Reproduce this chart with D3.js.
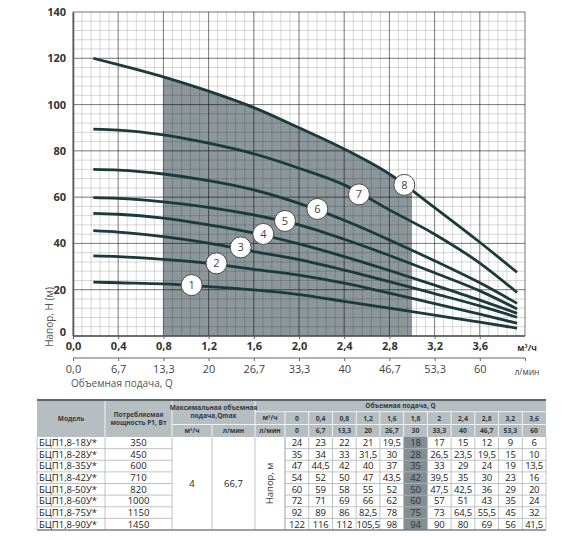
<!DOCTYPE html>
<html><head><meta charset="utf-8">
<script src="https://cdn.jsdelivr.net/npm/d3@7"></script>
<style>body{margin:0;background:#fff}svg{display:block}</style>
</head><body><svg id="c" width="570" height="540"></svg>
<script>
// ---- chart data ----
const qPts  = [0.18, 0.4, 0.8, 1.2, 1.6, 2.0, 2.4, 2.8, 3.2, 3.6, 3.93];
const head1 = [23.3, 23.0, 22.5, 21.3, 19.9, 17.9, 15.0, 12.0, 9.0, 6.0, 3.4];
const head2 = [34.6, 34.3, 33.1, 31.4, 28.8, 26.3, 22.8, 18.5, 14.0, 9.5, 5.5];
const head3 = [45.5, 44.9, 42.9, 40.1, 36.5, 33.0, 28.5, 23.5, 18.3, 13.0, 8.1];
const head4 = [53.0, 52.6, 50.9, 48.0, 44.5, 39.8, 34.3, 28.3, 22.0, 15.5, 9.8];
const head5 = [59.8, 59.5, 58.0, 55.6, 52.3, 48.0, 41.8, 34.8, 27.3, 19.5, 11.7];
const head6 = [72.0, 71.7, 70.0, 67.1, 63.1, 57.3, 50.0, 41.5, 32.5, 23.0, 14.1];
const head7 = [89.4, 89.0, 86.9, 83.3, 78.7, 72.5, 65.3, 54.5, 44.0, 31.5, 18.8];
const head8 = [120, 117.3, 112, 105.8, 98.7, 90.0, 80.8, 70.0, 55.5, 40.5, 27.5];
const curveLabels = ["1","2","3","4","5","6","7","8"];
const badgeQ = [1.05, 1.27, 1.484, 1.684, 1.876, 2.162, 2.531, 2.932];
const badgeH = [22.0, 31.4, 38.3, 44.1, 49.7, 54.9, 61.2, 65.3];
const workRange = [0.8, 3.0];
const yTicks = [0, 20, 40, 60, 80, 100, 120, 140];
const xTicks = [0, 0.4, 0.8, 1.2, 1.6, 2.0, 2.4, 2.8, 3.2, 3.6];
const lminLabels = ["0,0","6,7","13,3","20","26,7","33,3","40","46,7","53,3","60"];

// ---- table data ----
const tblModels = ["БЦП1,8-18У*","БЦП1,8-28У*","БЦП1,8-35У*","БЦП1,8-42У*","БЦП1,8-50У*","БЦП1,8-60У*","БЦП1,8-75У*","БЦП1,8-90У*"];
const tblPower = [350, 450, 600, 710, 820, 1000, 1150, 1450];
const tblQm3 = ["0","0,4","0,8","1,2","1,6","1,8","2","2,4","2,8","3,2","3,6"];
const tblQlmin = ["0","6,7","13,3","20","26,7","30","33,3","40","46,7","53,3","60"];
const tblH1 = [24, 23, 22, 21, 19.5, 18, 17, 15, 12, 9, 6];
const tblH2 = [35, 34, 33, 31.5, 30, 28, 26.5, 23.5, 19.5, 15, 10];
const tblH3 = [47, 44.5, 42, 40, 37, 35, 33, 29, 24, 19, 13.5];
const tblH4 = [54, 52, 50, 47, 43.5, 42, 39.5, 35, 30, 23, 16];
const tblH5 = [60, 59, 58, 55, 52, 50, 47.5, 42.5, 36, 29, 20];
const tblH6 = [72, 71, 69, 66, 62, 60, 57, 51, 43, 35, 24];
const tblH7 = [92, 89, 86, 82.5, 78, 75, 73, 64.5, 55.5, 45, 32];
const tblH8 = [122, 116, 112, 105.5, 98, 94, 90, 80, 69, 56, 41.5];
const qmaxM3 = "4", qmaxLmin = "66,7";
const highlightQ = "1,8";

const curves = [head1,head2,head3,head4,head5,head6,head7,head8];
const tblRows = [tblH1,tblH2,tblH3,tblH4,tblH5,tblH6,tblH7,tblH8];
const fmt = v => String(v).replace('.', ',');

const svg = d3.select('#c');
const F = "'Open Sans', 'DejaVu Sans', sans-serif";
const x = d3.scaleLinear([0, 4], [73, 525]);
const y = d3.scaleLinear([0, 140], [336, 12]);

// shaded working region under top curve
svg.append('clipPath').attr('id','wr').append('rect')
  .attr('x', x(workRange[0])).attr('y', y(140))
  .attr('width', x(workRange[1]) - x(workRange[0])).attr('height', y(0) - y(140));
const pts8 = qPts.map((q,i)=>[q, head8[i]]);
svg.append('path').datum(pts8)
  .attr('clip-path','url(#wr)')
  .attr('fill', '#8c969b')
  .attr('d', d3.area().x(d=>x(d[0])).y0(y(0)).y1(d=>y(d[1])).curve(d3.curveMonotoneX)(pts8));

// grid
const g = svg.append('g');
const minorX = d3.range(0, 4.0001, 0.08), minorY = d3.range(0, 140.001, 4);
g.selectAll('.mx').data(minorX).join('line')
  .attr('x1', d=>x(d)).attr('x2', d=>x(d)).attr('y1', y(0)).attr('y2', y(140))
  .attr('stroke', '#000').attr('stroke-opacity', 0.2).attr('stroke-width', 0.8);
g.selectAll('.my').data(minorY).join('line')
  .attr('y1', d=>y(d)).attr('y2', d=>y(d)).attr('x1', x(0)).attr('x2', x(4))
  .attr('stroke', '#000').attr('stroke-opacity', 0.2).attr('stroke-width', 0.8);
g.selectAll('.Mx').data(xTicks.concat([4])).join('line')
  .attr('x1', d=>x(d)).attr('x2', d=>x(d)).attr('y1', y(0)).attr('y2', y(140))
  .attr('stroke', '#000').attr('stroke-opacity', 0.42).attr('stroke-width', 1);
g.selectAll('.My').data(yTicks).join('line')
  .attr('y1', d=>y(d)).attr('y2', d=>y(d)).attr('x1', x(0)).attr('x2', x(4))
  .attr('stroke', '#000').attr('stroke-opacity', 0.42).attr('stroke-width', 1);

// curves
const line = d3.line().x((d,i)=>x(qPts[i])).y(d=>y(d)).curve(d3.curveMonotoneX);
svg.append('g').selectAll('path').data(curves).join('path')
  .attr('d', line).attr('fill','none').attr('stroke','#1b3a3a').attr('stroke-width', 2.8);

// badges
const b = svg.append('g').selectAll('g').data(curveLabels).join('g')
  .attr('transform', (d,i)=>`translate(${x(badgeQ[i])},${y(badgeH[i])})`);
b.append('circle').attr('r', 10.5).attr('fill','#fff').attr('stroke','#4a4a4a').attr('stroke-width',1);
b.append('text').text(d=>d).attr('text-anchor','middle').attr('dy','0.36em')
  .attr('font-family', F).attr('font-size', 11).attr('fill','#444');

// axes
const yAx = svg.append('g').attr('transform', `translate(${x(0)},0)`)
  .call(d3.axisLeft(y).tickValues(yTicks).tickSize(0).tickPadding(7));
yAx.select('.domain').attr('stroke','#555').attr('stroke-width',1.5);
yAx.selectAll('text').attr('font-family', F).attr('font-weight','bold').attr('font-size', 11).attr('fill','#333');
yAx.selectAll('.tick').filter(d=>d===0).select('text').attr('y', -4);

const xAx = svg.append('g').attr('transform', `translate(0,${y(0)})`)
  .call(d3.axisBottom(x).tickValues(xTicks).tickFormat(d=>d.toFixed(1).replace('.',',')).tickSize(3).tickPadding(3));
xAx.select('.domain').attr('stroke','#555').attr('stroke-width',1.5).attr('d', `M${x(0)},0H${x(4)}`);
xAx.selectAll('.tick line').attr('stroke','#666');
xAx.selectAll('text').attr('font-family', F).attr('font-weight','bold').attr('font-size', 11).attr('fill','#333');
svg.append('text').attr('x', 527).attr('y', 351).attr('text-anchor','middle')
  .attr('font-family', F).attr('font-weight','bold').attr('font-size', 8.5).attr('fill','#333').text('м³/ч');

const x2 = svg.append('g').attr('transform', `translate(0,358)`)
  .call(d3.axisBottom(x).tickValues(xTicks.concat([4])).tickFormat((d,i)=>lminLabels[i] || '').tickSize(3).tickPadding(4));
x2.select('.domain').attr('stroke','#666').attr('stroke-width',1).attr('d', `M${x(0)},0H${x(4)}`);
x2.selectAll('.tick line').attr('stroke','#666');
x2.selectAll('text').attr('font-family', F).attr('font-size', 11).attr('fill','#444');
svg.append('text').attr('x', 527).attr('y', 375).attr('text-anchor','middle')
  .attr('font-family', F).attr('font-size', 8.5).attr('fill','#444').text('л/мин');
svg.append('text').attr('x', 71).attr('y', 387).attr('font-family', F).attr('font-size', 10)
  .attr('fill','#555').text('Объемная подача, Q');
svg.append('text').attr('transform','translate(53,317) rotate(-90)').attr('text-anchor','middle')
  .attr('font-family', F).attr('font-size', 10).attr('fill','#555').text('Напор, H (м)');

// ---- table ----
const T = svg.append('g');
const TF = "'Open Sans', sans-serif";
const colX = [37, 105, 172, 212, 255, 285];
const tRight = 546, tTop = 400, hR1 = 411.7, hR2 = 424.5, hBot = 437, tBot = 530;
const qc = d3.scaleBand(tblQm3, [colX[5], tRight]);
const rows = d3.scaleBand(d3.range(tblModels.length), [hBot, tBot]);
const HB = '#b7bec2';
T.append('rect').attr('x', colX[0]).attr('y', tTop).attr('width', tRight-colX[0]).attr('height', hBot-tTop).attr('fill', HB);
T.append('rect').attr('x', qc(highlightQ)).attr('y', hBot).attr('width', qc.bandwidth()).attr('height', tBot-hBot).attr('fill', '#838d92');
const hsep = [[colX[1],tTop,colX[1],hBot],[colX[2],tTop,colX[2],hBot],[colX[3],hR2,colX[3],hBot],[colX[4],tTop,colX[4],hBot],
  [colX[2],hR2,colX[4],hR2],[colX[4],hR1,tRight,hR1],[colX[4],hR2,tRight,hR2]];
tblQm3.forEach(q=>hsep.push([qc(q),hR1,qc(q),hBot]));
T.selectAll('.hs').data(hsep).join('line').attr('x1',d=>d[0]).attr('y1',d=>d[1]).attr('x2',d=>d[2]).attr('y2',d=>d[3])
  .attr('stroke','#fff').attr('stroke-width',0.8);
const bl = [];
tblModels.forEach((m,i)=>{ if(i>0){ bl.push([colX[0],rows(i),colX[2],rows(i)]); bl.push([colX[5],rows(i),tRight,rows(i)]); } });
[colX[0],colX[1],colX[2],colX[3],colX[4],colX[5],tRight].forEach(cx=>bl.push([cx,hBot,cx,tBot]));
tblQm3.forEach(q=>bl.push([qc(q),hBot,qc(q),tBot]));
T.selectAll('.bl').data(bl).join('line').attr('x1',d=>d[0]).attr('y1',d=>d[1]).attr('x2',d=>d[2]).attr('y2',d=>d[3])
  .attr('stroke','#b0b4b6').attr('stroke-width',0.8);
T.append('line').attr('x1',colX[0]).attr('x2',tRight).attr('y1',tTop).attr('y2',tTop).attr('stroke','#5d6569').attr('stroke-width',2);
T.append('line').attr('x1',colX[0]).attr('x2',tRight).attr('y1',tBot).attr('y2',tBot).attr('stroke','#7a8084').attr('stroke-width',1.5);

function htext(txt, cx, cy, size){
  T.append('text').attr('x',cx).attr('y',cy).attr('text-anchor','middle').attr('dy','0.35em')
   .attr('font-family',TF).attr('font-weight','bold').attr('font-size',size||6.5).attr('fill','#2f3a3f').text(txt);
}
htext('Модель', (colX[0]+colX[1])/2, 419);
htext('Потребляемая', (colX[1]+colX[2])/2, 414.5);
htext('мощность Р1, Вт', (colX[1]+colX[2])/2, 422.5);
htext('Максимальная объемная', (colX[2]+colX[4])/2, 407.5);
htext('подача,Qmax', (colX[2]+colX[4])/2, 416);
htext('м³/ч', (colX[2]+colX[3])/2, 431);
htext('л/мин', (colX[3]+colX[4])/2, 431);
htext('Объемная подача, Q', (colX[4]+tRight)/2, 406);
htext('м³/ч', (colX[4]+colX[5])/2, 418.2);
htext('л/мин', (colX[4]+colX[5])/2, 431);
tblQm3.forEach((q,i)=>{ htext(q, qc(q)+qc.bandwidth()/2, 418.2, 6.8); htext(tblQlmin[i], qc(q)+qc.bandwidth()/2, 431, 6.8); });

const rowMid = i => rows(i) + rows.bandwidth()/2;
const BF = 9.5;
T.selectAll('.m').data(tblModels).join('text').attr('x', colX[0]+2).attr('y',(d,i)=>rowMid(i)).attr('dy','0.36em')
  .attr('font-family',TF).attr('font-size',BF).attr('fill','#222').text(d=>d);
T.selectAll('.p').data(tblPower).join('text').attr('x', (colX[1]+colX[2])/2).attr('y',(d,i)=>rowMid(i)).attr('dy','0.36em')
  .attr('text-anchor','middle').attr('font-family',TF).attr('font-size',BF).attr('fill','#222').text(d=>d);
T.append('text').attr('x',(colX[2]+colX[3])/2).attr('y',(hBot+tBot)/2).attr('dy','0.36em').attr('text-anchor','middle')
  .attr('font-family',TF).attr('font-size',BF).attr('fill','#222').text(qmaxM3);
T.append('text').attr('x',(colX[3]+colX[4])/2).attr('y',(hBot+tBot)/2).attr('dy','0.36em').attr('text-anchor','middle')
  .attr('font-family',TF).attr('font-size',BF).attr('fill','#222').text(qmaxLmin);
T.append('text').attr('transform',`translate(${(colX[4]+colX[5])/2},${(hBot+tBot)/2}) rotate(-90)`).attr('dy','0.36em')
  .attr('text-anchor','middle').attr('font-family',TF).attr('font-size',BF).attr('fill','#333').text('Напор, м');
tblRows.forEach((r,i)=>{
  T.selectAll('.r'+i).data(r).join('text').attr('x',(d,j)=>qc(tblQm3[j])+qc.bandwidth()/2).attr('y',rowMid(i)).attr('dy','0.36em')
   .attr('text-anchor','middle').attr('font-family',TF).attr('font-size',BF).attr('letter-spacing',-0.2)
   .attr('fill',(d,j)=>tblQm3[j]===highlightQ?'#2a3236':'#222').text(d=>fmt(d));
});
</script></body></html>
